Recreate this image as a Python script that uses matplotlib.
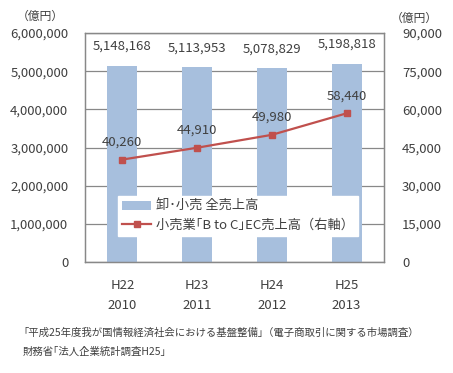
import matplotlib.pyplot as plt
from matplotlib.ticker import FuncFormatter
from matplotlib.transforms import blended_transform_factory

plt.rcParams['font.family'] = ['Noto Sans CJK JP', 'DejaVu Sans']

wareki = ["H22", "H23", "H24", "H25"]
years = ["2010", "2011", "2012", "2013"]
uriage = [5148168, 5113953, 5078829, 5198818]   # 卸・小売 全売上高
ec = [40260, 44910, 49980, 58440]               # 小売業 B to C EC売上高

txt = '#404040'
grid = '#888888'
bar_c = '#a7bfdd'
line_c = '#c0504d'

fig = plt.figure(figsize=(4.53, 3.73), dpi=100)
ax = fig.add_axes([0.1876, 0.2976, 0.6601, 0.6139])
ax2 = ax.twinx()

x = list(range(len(wareki)))
ax.bar(x, uriage, width=0.4, color=bar_c, zorder=2, label="卸･小売 全売上高")
ax.set_xlim(-0.5, 3.5)
ax.set_ylim(0, 6000000)
ax.set_yticks(range(0, 6000001, 1000000))
ax.yaxis.set_major_formatter(FuncFormatter(lambda v, p: f"{int(v):,}"))
ax.grid(axis='y', color=grid, linewidth=0.9, zorder=0)
ax.set_axisbelow(True)
for i, v in enumerate(uriage):
    ax.annotate(f"{v:,}", (i, v), xytext=(0, 9), textcoords='offset points',
                ha='center', va='bottom', fontsize=9.5, color=txt)

ax2.plot(x, ec, color=line_c, linewidth=1.6, marker='s', markersize=5,
         label="小売業｢B to C｣EC売上高（右軸）")
ax2.set_ylim(0, 90000)
ax2.set_yticks(range(0, 90001, 15000))
ax2.yaxis.set_major_formatter(FuncFormatter(lambda v, p: f"{int(v):,}"))
for i, v in enumerate(ec):
    ax2.annotate(f"{v:,}", (i, v), xytext=(0, 8), textcoords='offset points',
                 ha='center', va='bottom', fontsize=9.5, color=txt)

ax.set_xticks(x)
ax.set_xticklabels(wareki)
for a in (ax, ax2):
    a.tick_params(length=0, labelsize=9.5, colors=txt)
    for s in a.spines.values():
        s.set_color(grid)
        s.set_linewidth(0.9)
ax.tick_params(axis='x', pad=12)
ax.tick_params(axis='y', pad=12)
ax2.tick_params(axis='y', pad=13)

tr = blended_transform_factory(ax.transData, fig.transFigure)
for i, y in enumerate(years):
    ax.text(i, 0.182, y, transform=tr, ha='center', va='center', fontsize=9.5, color=txt)

fig.text(0.037, 0.955, "（億円）", fontsize=8.5, color=txt, va='center')
fig.text(0.862, 0.952, "（億円）", fontsize=8.5, color=txt, va='center')

h1, l1 = ax.get_legend_handles_labels()
h2, l2 = ax2.get_legend_handles_labels()
leg = ax2.legend(h1 + h2, l1 + l2, loc='lower left', bbox_to_anchor=(0.09, 0.085),
                 frameon=True, fancybox=False, framealpha=1, edgecolor='white',
                 fontsize=9.5, handlelength=2.2, handletextpad=0.35,
                 borderpad=0.3, labelspacing=0.45)
for t in leg.get_texts():
    t.set_color(txt)

fig.text(0.052, 0.107, "｢平成25年度我が国情報経済社会における基盤整備｣（電子商取引に関する市場調査）",
         fontsize=7.5, color=txt, va='center')
fig.text(0.05, 0.056, "財務省｢法人企業統計調査H25｣", fontsize=7.5, color=txt, va='center')

fig.savefig('out.png', dpi=100)
